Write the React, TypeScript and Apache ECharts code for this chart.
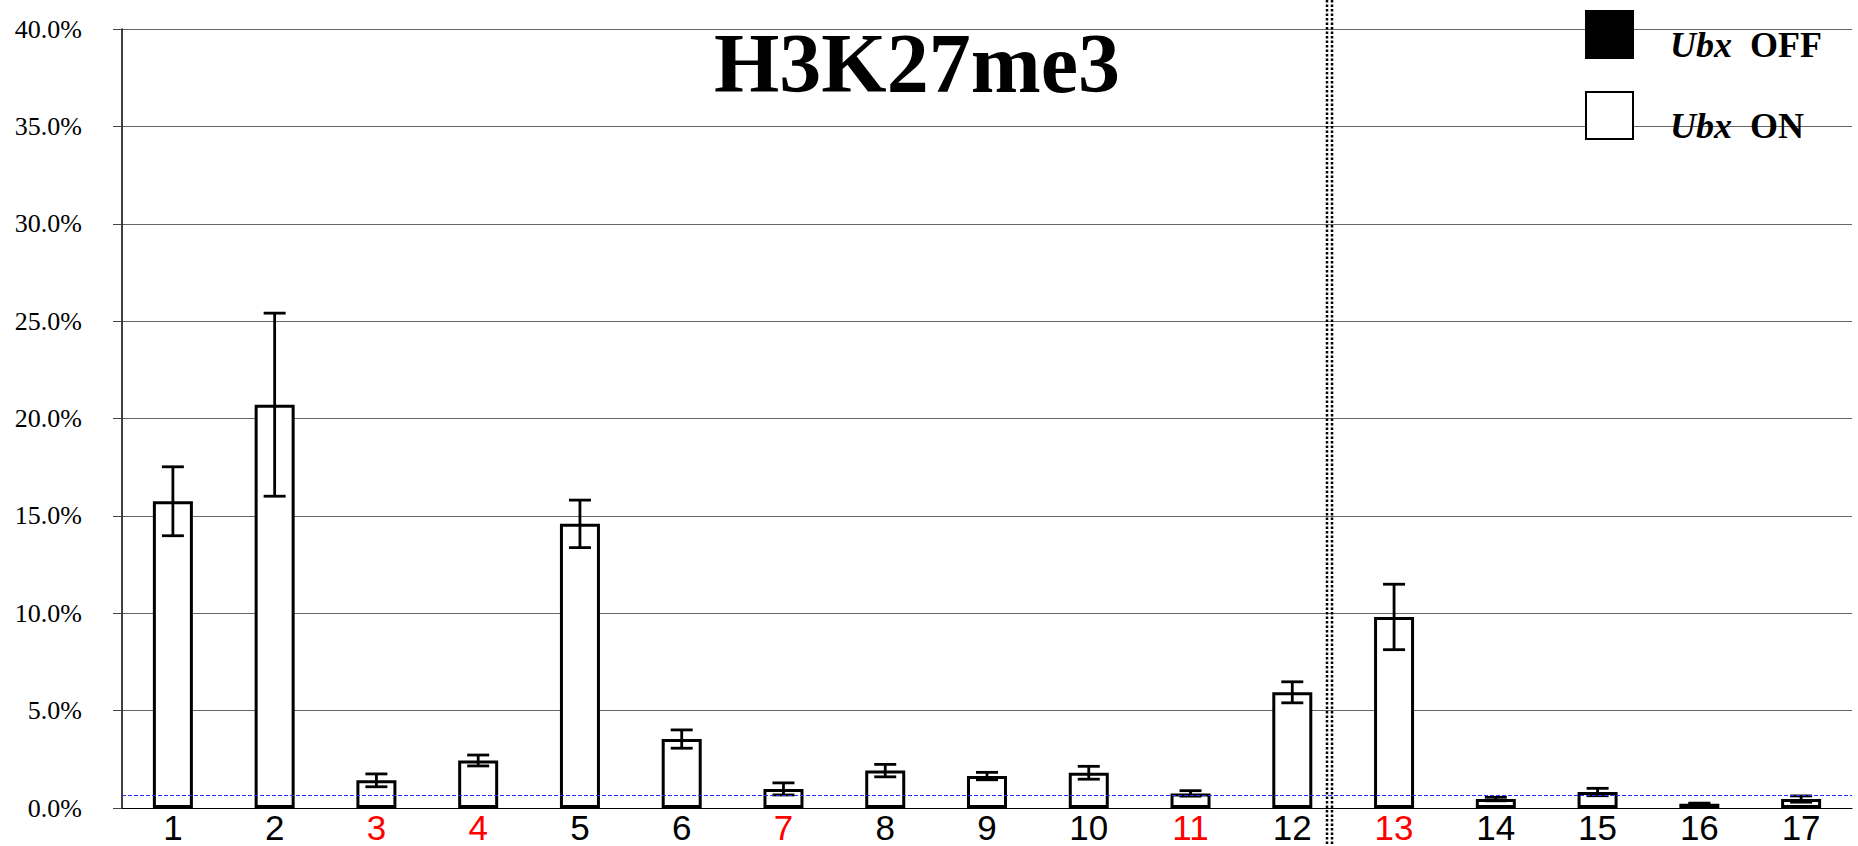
import React, { useEffect, useRef } from "react";
import * as echarts from "echarts";

const categories = ["1", "2", "3", "4", "5", "6", "7", "8", "9", "10", "11", "12", "13", "14", "15", "16", "17"];
const ubxOnValues = [15.75, 20.71, 1.42, 2.44, 14.59, 3.54, 0.98, 1.92, 1.64, 1.81, 0.75, 5.94, 9.81, 0.46, 0.82, 0.22, 0.46];
const ubxOnErrors = [1.77, 4.7, 0.33, 0.28, 1.22, 0.47, 0.31, 0.32, 0.19, 0.33, 0.14, 0.54, 1.68, 0.09, 0.19, 0.03, 0.16];
const redLabels = ["3", "4", "7", "11", "13"];
const yTicks = [0, 5, 10, 15, 20, 25, 30, 35, 40];
const backgroundLevel = 0.68;
const titleText = "H3K27me3";
const legendNames = ["Ubx OFF", "Ubx ON"];

export default function App() {
  const ref = useRef<HTMLDivElement>(null);

  useEffect(() => {
    if (!ref.current) return;
    const chart = echarts.init(ref.current, null, { renderer: "svg" });

    const errorData = categories.map((_, i) => [
      i,
      ubxOnValues[i] + ubxOnErrors[i],
      ubxOnValues[i] - ubxOnErrors[i],
    ]);

    const richStyles = {
      i: { fontFamily: "Liberation Serif", fontSize: 36, fontWeight: "bold", fontStyle: "italic", fill: "#000" },
      b: { fontFamily: "Liberation Serif", fontSize: 36, fontWeight: "bold", fill: "#000" },
    };

    const option: any = {
      animation: false,
      backgroundColor: "#fff",
      title: {
        text: titleText,
        left: 912,
        top: 16,
        textAlign: "center",
        textStyle: {
          fontFamily: "Liberation Serif",
          fontWeight: "bold",
          fontSize: 84,
          color: "#000",
        },
      },
      grid: { left: 122, top: 29, width: 1730, height: 779 },
      xAxis: {
        type: "category",
        data: categories,
        axisLine: { show: true, lineStyle: { color: "#000", width: 1 } },
        axisTick: { show: false },
        axisLabel: {
          fontFamily: "Liberation Sans",
          fontSize: 35,
          margin: 2,
          color: (v: string) => (redLabels.includes(v) ? "#ff0000" : "#000"),
        },
      },
      yAxis: {
        type: "value",
        min: yTicks[0],
        max: yTicks[yTicks.length - 1],
        interval: yTicks[1] - yTicks[0],
        axisLine: { show: true, lineStyle: { color: "#000", width: 1.5 } },
        axisTick: { show: true, length: 9, lineStyle: { color: "#444" } },
        axisLabel: {
          fontFamily: "Liberation Serif",
          fontSize: 26,
          color: "#000",
          margin: 40,
          formatter: (v: number) => v.toFixed(1) + "%",
        },
        splitLine: { show: true, lineStyle: { color: "#666", width: 1 } },
      },
      series: [
        {
          name: legendNames[1],
          type: "bar",
          data: ubxOnValues,
          barWidth: 40,
          itemStyle: { color: "#fff", borderColor: "#000", borderWidth: 3 },
          markLine: {
            silent: true,
            symbol: "none",
            label: { show: false },
            lineStyle: { color: "#2a2aff", type: [4, 2], width: 1.2 },
            data: [{ yAxis: backgroundLevel }],
          },
          z: 2,
        },
        {
          type: "custom",
          data: errorData,
          z: 3,
          renderItem: (params: any, api: any) => {
            const x = api.value(0);
            const hi = api.coord([x, api.value(1)]);
            const lo = api.coord([x, api.value(2)]);
            const half = 11;
            const style = { stroke: "#000", lineWidth: 2.8 };
            return {
              type: "group",
              children: [
                { type: "line", shape: { x1: hi[0], y1: hi[1], x2: lo[0], y2: lo[1] }, style },
                { type: "line", shape: { x1: hi[0] - half, y1: hi[1], x2: hi[0] + half, y2: hi[1] }, style },
                { type: "line", shape: { x1: lo[0] - half, y1: lo[1], x2: lo[0] + half, y2: lo[1] }, style },
              ],
            };
          },
        },
      ],
      graphic: [
        { type: "line", shape: { x1: 1327, y1: 0, x2: 1327, y2: 846 }, style: { stroke: "#000", lineWidth: 2.5, lineDash: [2.5, 2] }, z: 10 },
        { type: "line", shape: { x1: 1332, y1: 0, x2: 1332, y2: 846 }, style: { stroke: "#000", lineWidth: 2.5, lineDash: [2.5, 2] }, z: 10 },
        { type: "rect", shape: { x: 1585, y: 10, width: 49, height: 49 }, style: { fill: "#000" }, z: 10 },
        { type: "rect", shape: { x: 1586, y: 92, width: 47, height: 47 }, style: { fill: "#fff", stroke: "#000", lineWidth: 2 }, z: 10 },
        {
          type: "text",
          x: 1670,
          y: 45,
          z: 10,
          style: {
            text: "{i|Ubx}  {b|OFF}",
            verticalAlign: "middle",
            textAlign: "left",
            fill: "#000",
            font: "bold 36px 'Liberation Serif'",
            rich: richStyles,
          },
        },
        {
          type: "text",
          x: 1670,
          y: 126,
          z: 10,
          style: {
            text: "{i|Ubx}  {b|ON}",
            verticalAlign: "middle",
            textAlign: "left",
            fill: "#000",
            font: "bold 36px 'Liberation Serif'",
            rich: richStyles,
          },
        },
      ],
    };

    chart.setOption(option);
    return () => chart.dispose();
  }, []);

  return (
    <div
      ref={ref}
      style={{ position: "absolute", left: 0, top: 0, width: 1858, height: 846 }}
    />
  );
}
